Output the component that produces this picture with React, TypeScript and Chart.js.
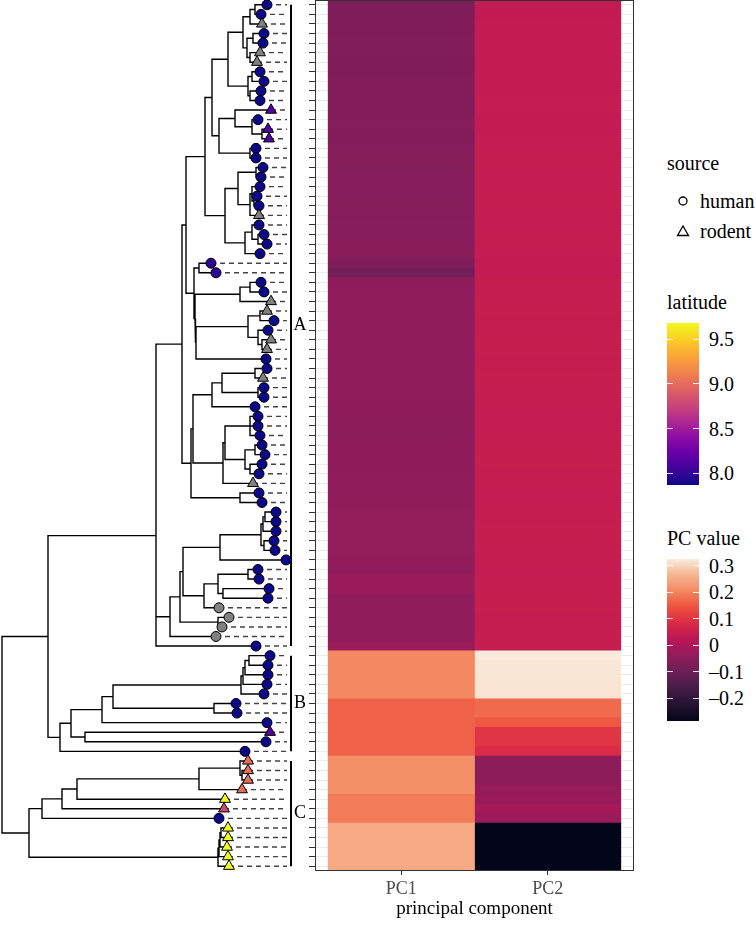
import React, { useEffect, useRef } from "react";
import { Chart, registerables } from "chart.js";

Chart.register(...registerables);

const FONT = "'Liberation Serif', 'DejaVu Serif', serif";

// ---- tip data (row order, top to bottom) ----
const tipDepth: number[] = [
  267, 261, 262, 264, 263, 260, 257, 260, 264, 261,
  260, 271, 258, 268, 269, 256, 256, 263, 261, 260,
  257, 259, 259, 259, 264, 267, 260, 211, 216, 261,
  264, 271, 267, 274, 268, 271, 267, 266, 267, 263,
  264, 264, 255, 258, 258, 260, 262, 265, 262, 259,
  253, 259, 262, 276, 276, 276, 274, 275, 286, 258,
  259, 269, 268, 219, 229, 222, 216, 256, 270, 268,
  268, 267, 264, 236, 237, 267, 270, 266, 245, 248,
  248, 248, 242, 225, 224, 219, 228, 228, 227, 228, 229,
];

const tipSource: string[] = [
  "h", "h", "r", "h", "h", "r", "r", "h", "h", "h",
  "h", "r", "h", "r", "r", "h", "h", "h", "h", "h",
  "h", "h", "r", "h", "h", "h", "h", "h", "h", "h",
  "h", "r", "r", "h", "h", "r", "r", "h", "h", "r",
  "h", "h", "h", "h", "h", "h", "h", "h", "h", "h",
  "r", "h", "h", "h", "h", "h", "h", "h", "h", "h",
  "h", "h", "h", "h", "h", "h", "h", "h", "h", "h",
  "h", "h", "h", "h", "h", "h", "r", "h", "h", "r",
  "r", "r", "r", "r", "r", "h", "r", "r", "r", "r", "r",
];

const tipLatitude: (number | null)[] = [
  7.87, 7.87, null, 7.87, 7.87, null, null, 7.87, 7.87, 7.87,
  7.87, 8.12, 7.87, 8.12, 8.12, 7.87, 7.87, 7.87, 7.87, 7.87,
  7.87, 7.87, null, 7.87, 7.87, 7.87, 7.87, 7.98, 7.98, 7.87,
  7.87, null, null, 7.87, 7.87, null, null, 7.87, 7.87, null,
  7.87, 7.87, 7.87, 7.87, 7.87, 7.87, 7.87, 7.87, 7.87, 7.87,
  null, 7.87, 7.87, 7.87, 7.87, 7.87, 7.87, 7.87, 7.87, 7.87,
  7.87, 7.87, 7.87, null, null, null, null, 7.87, 7.87, 7.87,
  7.87, 7.87, 7.87, 7.87, 7.87, 7.87, 8.12, 7.87, 7.87, 9.02,
  9.02, 9.02, 9.02, 9.66, 8.78, 7.87, 9.68, 9.68, 9.68, 9.68, 9.68,
];

// tree topology: "(children)depth", tips are row numbers
const treeNewick =
  "(((((((((((((1,2)255,3)250,((4,5)253,(6,7)250)247)243,((8,9)252,(10,11)250)248)228," +
  "((12,(13,(14,15)262)252)235,(16,17)250)219)212," +
  "(((18,19)256,((20,(21,22)254)252,23)250)238,((24,(25,26)258)252,27)245)225)205," +
  "((28,29)199,(((30,31)250,32)240,(((33,34)260,(35,(36,37)262)258)248,38)196)195)194)186," +
  "(((((39,40)255,(41,42)258)222,43)212,(((44,45,46)250,((47,48)255,(49,50)250)245)225,51)223)193,(52,53)240)191)182," +
  "((((((((54,55)265,56)263,(57,58)264)261,59)220,(((60,61)248,(62,63)223)218,64)204)183,(65,66)218)180,67)170)164," +
  "68)156," +
  "((((((((69,70)249,71)245,72)243,73)241,(74,75)214)113,76)102,(77,78)85)71,79)60)48," +
  "((((((80,(81,82)242)240,83)199,84)77,85)62,86)42,((((87,88)221,89)220,90)219,91)218)29)2";

const alignDepth = 287;
const groupBarDepth = 291;
const groupLabelDepth = 300;
const groupNames = ["A", "B", "C"];
const groupFirst = [1, 69, 80];
const groupLast = [68, 79, 91];

// ---- heatmap data ----
const pcNames = ["PC1", "PC2"];
const pc1: number[] = [
  -0.072, -0.072, -0.070, -0.070, -0.068, -0.068, -0.070, -0.070, -0.068, -0.066,
  -0.066, -0.066, -0.064, -0.064, -0.066, -0.064, -0.062, -0.062, -0.060, -0.060,
  -0.060, -0.062, -0.060, -0.058, -0.058, -0.056, -0.056, -0.068, -0.090, -0.048,
  -0.046, -0.046, -0.046, -0.044, -0.044, -0.044, -0.046, -0.046, -0.044, -0.044,
  -0.046, -0.046, -0.048, -0.050, -0.050, -0.050, -0.048, -0.048, -0.048, -0.046,
  -0.046, -0.044, -0.044, -0.040, -0.040, -0.040, -0.040, -0.040, -0.042, -0.044,
  -0.030, -0.030, -0.044, -0.044, -0.044, -0.044, -0.044, -0.030,
  0.205, 0.205, 0.205, 0.205, 0.205,
  0.160, 0.160, 0.160, 0.160, 0.160, 0.160,
  0.215, 0.215, 0.215, 0.215, 0.190, 0.190, 0.190,
  0.250, 0.250, 0.250, 0.250, 0.250,
];
const pc2: number[] = [
  0.036, 0.036, 0.038, 0.038, 0.040, 0.040, 0.038, 0.038, 0.040, 0.040,
  0.042, 0.042, 0.040, 0.040, 0.042, 0.042, 0.044, 0.044, 0.042, 0.042,
  0.044, 0.044, 0.042, 0.042, 0.044, 0.044, 0.042, 0.040, 0.040, 0.044,
  0.044, 0.046, 0.046, 0.044, 0.044, 0.046, 0.046, 0.044, 0.044, 0.046,
  0.046, 0.044, 0.044, 0.042, 0.042, 0.044, 0.044, 0.046, 0.046, 0.044,
  0.044, 0.042, 0.042, 0.044, 0.044, 0.046, 0.046, 0.044, 0.044, 0.042,
  0.044, 0.044, 0.046, 0.046, 0.044, 0.044, 0.046, 0.046,
  0.326, 0.322, 0.320, 0.318, 0.318,
  0.170, 0.170, 0.150, 0.100, 0.100, 0.085,
  -0.050, -0.050, -0.050, -0.035, -0.030, -0.010, -0.030,
  -0.287, -0.287, -0.287, -0.287, -0.287,
];

const latTicks = [8.0, 8.5, 9.0, 9.5];
const pcTicks = [0.3, 0.2, 0.1, 0, -0.1, -0.2];

// ---- colour maps ----
const PLASMA = ["#0d0887", "#41049d", "#6a00a8", "#8f0da4", "#b12a90", "#cc4778", "#e16462", "#f2844b", "#fca636", "#fcce25", "#f0f921"];
const ROCKET = ["#03051a", "#221331", "#451c47", "#6a1f56", "#921c5b", "#b91657", "#d92847", "#ed513e", "#f4875f", "#f6b48f", "#faebdd"];

function hexToRgb(h: string) {
  return [parseInt(h.slice(1, 3), 16), parseInt(h.slice(3, 5), 16), parseInt(h.slice(5, 7), 16)];
}
function ramp(stops: string[], t: number) {
  const tt = Math.max(0, Math.min(1, t)) * (stops.length - 1);
  const i = Math.min(stops.length - 2, Math.floor(tt));
  const f = tt - i;
  const a = hexToRgb(stops[i]);
  const b = hexToRgb(stops[i + 1]);
  const c = a.map((v, k) => Math.round(v + (b[k] - v) * f));
  return `rgb(${c[0]},${c[1]},${c[2]})`;
}

const latVals = tipLatitude.filter((v) => v !== null) as number[];
const latMin = Math.min(...latVals);
const latMax = Math.max(...latVals);
const pcAll = pc1.concat(pc2);
const pcMin = Math.min(...pcAll);
const pcMax = Math.max(...pcAll);
const latColor = (v: number | null) => (v === null ? "#808080" : ramp(PLASMA, (v - latMin) / (latMax - latMin)));
const pcColor = (v: number) => ramp(ROCKET, (v - pcMin) / (pcMax - pcMin));

// ---- tree parsing / layout ----
type TNode = { x: number; y: number; children: TNode[] };
function parseTree(src: string): TNode {
  const s = src.replace(/\s+/g, "");
  let i = 0;
  const num = () => {
    const j = i;
    while (i < s.length && /[0-9.]/.test(s[i])) i++;
    return parseFloat(s.slice(j, i));
  };
  const node = (): TNode => {
    if (s[i] === "(") {
      i++;
      const ch: TNode[] = [];
      for (;;) {
        ch.push(node());
        if (s[i] === ",") { i++; continue; }
        i++;
        break;
      }
      const x = num();
      const y = ch.reduce((a, c) => a + c.y, 0) / ch.length;
      return { x, y, children: ch };
    }
    const t = num();
    return { x: tipDepth[t - 1], y: t, children: [] };
  };
  return node();
}

function branchPoints(root: TNode) {
  const pts: { x: number; y: number | null }[] = [];
  const walk = (n: TNode) => {
    for (const c of n.children) {
      pts.push({ x: n.x, y: n.y }, { x: n.x, y: c.y }, { x: c.x, y: c.y }, { x: c.x, y: null });
      walk(c);
    }
  };
  walk(root);
  return pts;
}

const rows = tipDepth.map((_, i) => i + 1);

function makeTree(canvas: HTMLCanvasElement) {
  const root = parseTree(treeNewick);
  const dashes: { x: number; y: number | null }[] = [];
  rows.forEach((r) => {
    dashes.push({ x: tipDepth[r - 1], y: r }, { x: alignDepth, y: r }, { x: alignDepth, y: null });
  });
  const bars: { x: number; y: number | null }[] = [];
  groupNames.forEach((_, g) => {
    bars.push({ x: groupBarDepth, y: groupFirst[g] }, { x: groupBarDepth, y: groupLast[g] }, { x: groupBarDepth, y: null });
  });
  const labelPlugin = {
    id: "groupLabels",
    afterDatasetsDraw(chart: any) {
      const { ctx, scales } = chart;
      ctx.save();
      ctx.fillStyle = "#000";
      ctx.font = `18px ${FONT}`;
      ctx.textAlign = "center";
      ctx.textBaseline = "middle";
      groupNames.forEach((name, g) => {
        const y = scales.y.getPixelForValue((groupFirst[g] + groupLast[g]) / 2);
        ctx.fillText(name, scales.x.getPixelForValue(groupLabelDepth), y);
      });
      ctx.restore();
    },
  };
  return new Chart(canvas, {
    type: "scatter",
    data: {
      datasets: [
        {
          label: "tips",
          data: rows.map((r) => ({ x: tipDepth[r - 1], y: r })),
          pointStyle: tipSource.map((s) => (s === "h" ? "circle" : "triangle")) as any,
          pointRadius: tipSource.map((s) => (s === "h" ? 5 : 6.3)),
          pointBackgroundColor: tipLatitude.map(latColor),
          pointBorderColor: "#000",
          pointBorderWidth: 1,
          clip: false as any,
          order: 0,
        },
        {
          label: "branches",
          data: branchPoints(root) as any,
          showLine: true,
          spanGaps: false,
          borderColor: "#000",
          borderWidth: 1.4,
          pointRadius: 0,
          clip: false as any,
          order: 1,
        },
        {
          label: "align",
          data: dashes as any,
          showLine: true,
          spanGaps: false,
          borderColor: "#444",
          borderWidth: 1.4,
          borderDash: [5, 4],
          pointRadius: 0,
          clip: false as any,
          order: 2,
        },
        {
          label: "groups",
          data: bars as any,
          showLine: true,
          spanGaps: false,
          borderColor: "#000",
          borderWidth: 2,
          pointRadius: 0,
          clip: false as any,
          order: 3,
        },
      ],
    },
    options: {
      responsive: false,
      animation: false,
      devicePixelRatio: 1,
      layout: { padding: 0, autoPadding: false },
      plugins: { legend: { display: false }, tooltip: { enabled: false } },
      scales: {
        x: { type: "linear", min: 0, max: 310, display: false },
        y: { type: "linear", min: 0.5, max: rows.length + 0.5, reverse: true, display: false },
      },
    },
    plugins: [labelPlugin],
  });
}

function makeHeat(canvas: HTMLCanvasElement) {
  const border = {
    id: "panelBorder",
    afterDatasetsDraw(chart: any) {
      const { ctx, chartArea: a } = chart;
      ctx.save();
      ctx.strokeStyle = "#333";
      ctx.lineWidth = 1;
      ctx.strokeRect(a.left + 0.5, a.top + 0.5, a.right - a.left - 1, a.bottom - a.top - 1);
      ctx.restore();
    },
  };
  return new Chart(canvas, {
    type: "bar",
    data: {
      labels: rows.map(String),
      datasets: [
        { label: "PC1", data: pc1.map(() => [0.5, 1.5]) as any, backgroundColor: pc1.map(pcColor) },
        { label: "PC2", data: pc2.map(() => [1.5, 2.5]) as any, backgroundColor: pc2.map(pcColor) },
      ],
    },
    options: {
      indexAxis: "y",
      responsive: false,
      animation: false,
      devicePixelRatio: 1,
      layout: { padding: { top: 0, right: 6, bottom: 0, left: 0 }, autoPadding: false },
      plugins: { legend: { display: false }, tooltip: { enabled: false } },
      datasets: { bar: { grouped: false, barPercentage: 1, categoryPercentage: 1, borderWidth: 0 } as any },
      scales: {
        y: {
          type: "category",
          offset: true,
          grid: { color: "#ebebeb", tickColor: "#333", tickLength: 6, offset: false },
          border: { display: false },
          ticks: { display: false, autoSkip: false },
          afterFit: (s: any) => {
            s.width = 15;
            s.paddingTop = 0;
            s.paddingBottom = 0;
          },
        },
        x: {
          type: "linear",
          min: 0.41,
          max: 2.59,
          afterBuildTicks: (s: any) => { s.ticks = pcNames.map((_, i) => ({ value: i + 1 })); },
          ticks: {
            callback: (v: any) => pcNames[Number(v) - 1] ?? "",
            color: "#4d4d4d",
            font: { family: FONT, size: 18 },
            padding: 3,
          },
          grid: { color: "#ebebeb", tickColor: "#333", tickLength: 4 },
          border: { display: false },
          title: {
            display: true,
            text: "principal component",
            color: "#000",
            font: { family: FONT, size: 19 },
            padding: { top: 0, bottom: 12 },
          },
          afterFit: (s: any) => {
            s.height = 61;
            s.paddingLeft = 0;
            s.paddingRight = 0;
          },
        },
      },
    },
    plugins: [border],
  });
}

function ColorBar(props: { top: number; stops: string[]; min: number; max: number; ticks: number[]; fmt: (v: number) => string }) {
  const { top, stops, min, max, ticks, fmt } = props;
  const h = 162;
  const left = 667;
  const w = 32;
  return (
    <>
      <div style={{ position: "absolute", left, top, width: w, height: h, background: `linear-gradient(to top, ${stops.join(",")})` }} />
      {ticks.map((t) => {
        const y = top + h - ((t - min) / (max - min)) * h;
        return (
          <React.Fragment key={t}>
            <div style={{ position: "absolute", left, top: y - 0.5, width: 6, height: 1, background: "rgba(255,255,255,0.85)" }} />
            <div style={{ position: "absolute", left: left + w - 6, top: y - 0.5, width: 6, height: 1, background: "rgba(255,255,255,0.85)" }} />
            <div style={{ position: "absolute", left: 709, top: y - 11, height: 22, lineHeight: "22px", fontSize: 20, whiteSpace: "nowrap" }}>{fmt(t)}</div>
          </React.Fragment>
        );
      })}
    </>
  );
}

function Legend() {
  const text = (s: string, left: number, cy: number) => (
    <div style={{ position: "absolute", left, top: cy - 11, height: 22, lineHeight: "22px", fontSize: 20, whiteSpace: "nowrap" }}>{s}</div>
  );
  return (
    <>
      {text("source", 667, 163)}
      <svg style={{ position: "absolute", left: 676, top: 194 }} width={14} height={14}>
        <circle cx={7} cy={7} r={4} fill="none" stroke="#000" strokeWidth={1.3} />
      </svg>
      {text("human", 700, 201)}
      <svg style={{ position: "absolute", left: 676, top: 224 }} width={14} height={14}>
        <polygon points="7,2 12.5,11.5 1.5,11.5" fill="none" stroke="#000" strokeWidth={1.3} />
      </svg>
      {text("rodent", 700, 231)}
      {text("latitude", 667, 302)}
      <ColorBar top={323} stops={PLASMA} min={latMin} max={latMax} ticks={latTicks} fmt={(v) => v.toFixed(1)} />
      {text("PC value", 667, 538)}
      <ColorBar top={559} stops={ROCKET} min={pcMin} max={pcMax} ticks={pcTicks} fmt={(v) => (v === 0 ? "0" : v < 0 ? "\u2013" + Math.abs(v).toFixed(1) : v.toFixed(1))} />
    </>
  );
}

export default function App() {
  const treeRef = useRef<HTMLCanvasElement>(null);
  const heatRef = useRef<HTMLCanvasElement>(null);
  useEffect(() => {
    const t = makeTree(treeRef.current!);
    const h = makeHeat(heatRef.current!);
    return () => {
      t.destroy();
      h.destroy();
    };
  }, []);
  return (
    <div style={{ position: "absolute", left: 0, top: 0, width: 756, height: 932, background: "#fff", fontFamily: FONT, color: "#000" }}>
      <canvas ref={treeRef} width={310} height={871} style={{ position: "absolute", left: 0, top: 0 }} />
      <canvas ref={heatRef} width={340} height={932} style={{ position: "absolute", left: 300, top: 0 }} />
      <Legend />
    </div>
  );
}
